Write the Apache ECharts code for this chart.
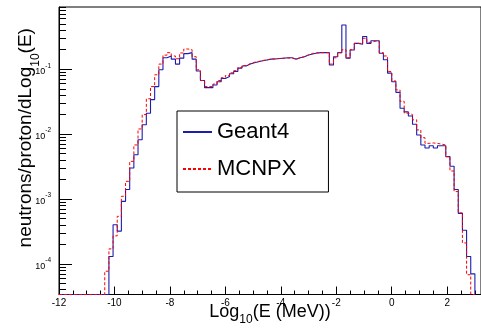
<!DOCTYPE html>
<html>
<head>
<meta charset="utf-8">
<script src="https://cdn.jsdelivr.net/npm/echarts@6/dist/echarts.min.js"></script>
<style>
  html, body { margin: 0; padding: 0; background: #fff; }
  #chart { width: 481px; height: 331px; }
</style>
</head>
<body>
<div id="chart"></div>
<script>
// histogram: 100 bins of 0.15 in log10(E/MeV), from -12 to 3
const binLow = -12;
const binWidth = 0.15;

const geant4 = [
  0, 0, 0, 0, 0, 0, 0, 0, 0, 0, 0, 0,
  1.3e-4, 4.0e-4, 3.2e-4, 9.2e-4, 1.4e-3, 3.0e-3, 4.8e-3, 8.2e-3, 1.39e-2, 2.1e-2,
  3.4e-2, 5.4e-2, 0.098, 0.15, 0.16, 0.143, 0.12, 0.148, 0.174, 0.18,
  0.143, 0.094, 0.067, 0.052, 0.052, 0.057, 0.064, 0.072, 0.077, 0.085,
  0.092, 0.104, 0.112, 0.12, 0.126, 0.13, 0.135, 0.139, 0.143, 0.144,
  0.146, 0.148, 0.15, 0.15, 0.143, 0.15, 0.156, 0.166, 0.172, 0.178,
  0.18, 0.18, 0.18, 0.116, 0.156, 0.18, 0.48, 0.148, 0.198, 0.25,
  0.243, 0.32, 0.25, 0.275, 0.275, 0.176, 0.14, 0.087, 0.064, 0.044,
  0.025, 0.022, 0.019, 0.0142, 0.0097, 0.0068, 0.0061, 0.0066, 0.0061, 0.0066,
  0.0066, 0.0045, 0.0032, 1.4e-3, 6.0e-4, 3.3e-4, 1.3e-4, 7e-5
];

const mcnpx = [
  0, 0, 0, 0, 0, 0, 0, 0, 0, 0, 0,
  7.7e-5, 1.7e-4, 2.7e-4, 5.4e-4, 1.1e-3, 1.87e-3, 3.8e-3, 6.8e-3, 1.2e-2, 2.0e-2,
  3.5e-2, 5.4e-2, 8.2e-2, 0.12, 0.165, 0.18, 0.16, 0.145, 0.178, 0.205,
  0.2, 0.156, 0.098, 0.067, 0.054, 0.054, 0.059, 0.067, 0.074, 0.08,
  0.088, 0.095, 0.106, 0.114, 0.122, 0.128, 0.132, 0.136, 0.14, 0.143,
  0.145, 0.146, 0.148, 0.148, 0.15, 0.143, 0.15, 0.156, 0.166, 0.175,
  0.178, 0.18, 0.18, 0.18, 0.12, 0.15, 0.18, 0.2, 0.15, 0.2,
  0.25, 0.25, 0.3, 0.26, 0.27, 0.27, 0.18, 0.16, 0.092, 0.066,
  0.048, 0.032, 0.021, 0.02, 0.0166, 0.0116, 0.0088, 0.0072, 0.0073, 0.0072,
  0.007, 0.0068, 0.0045, 0.0027, 1.3e-3, 6.1e-4, 2.1e-4, 6.8e-5, 0
];

const seriesNames = ["Geant4", "MCNPX"];
const xMin = -12;
const xMax = 3.22;
const yMin = 3.37e-5;
const yMax = 0.91;

// minor ticks: every 0.5 on x, 2..9 x 10^n on y (log10 units)
const xMinorTicks = [];
for (let v = -11.5; v < xMax; v += 0.5) {
  if (Math.abs(v / 2 - Math.round(v / 2)) > 1e-6) xMinorTicks.push(v);
}
const yMinorTicks = [];
for (let e = -5; e <= 0; e++) {
  for (let k = 2; k <= 9; k++) {
    const v = k * Math.pow(10, e);
    if (v > yMin && v < yMax) yMinorTicks.push(Math.log10(v));
  }
}

// step line through bin edges, empty bins sit on the frame floor
function toSteps(values) {
  const pts = values.map((v, i) => [binLow + i * binWidth, v > 0 ? v : yMin]);
  pts.push([binLow + values.length * binWidth, yMin]);
  return pts;
}

const chart = echarts.init(document.getElementById("chart"));
const font = "Liberation Sans";

chart.setOption({
  animation: false,
  backgroundColor: "#fff",
  textStyle: { fontFamily: font, color: "#000" },
  grid: {
    left: 59, right: 0, top: 7, bottom: 36,
    show: true, borderColor: "#000", borderWidth: 1, backgroundColor: "transparent"
  },
  legend: {
    data: seriesNames,
    orient: "vertical",
    left: 177, top: 111,
    itemWidth: 29, itemHeight: 22, itemGap: 15,
    padding: [10, 32, 12, 5],
    backgroundColor: "#fff", borderColor: "#000", borderWidth: 1, borderRadius: 0,
    itemStyle: { opacity: 0 },
    textStyle: { fontFamily: font, fontSize: 22, lineHeight: 22, color: "#000" }
  },
  xAxis: [
    {
      type: "value",
      min: xMin, max: xMax, interval: 2,
      name: "Log{sub|10}(E (MeV))",
      nameLocation: "middle",
      nameGap: 8,
      nameMoveOverlap: false,
      nameTextStyle: {
        fontFamily: font, fontSize: 18, lineHeight: 20, verticalAlign: "top", color: "#000",
        rich: { sub: { fontFamily: font, fontSize: 12, lineHeight: 12, padding: [15, 0, 0, 0] } }
      },
      axisLine: { show: true, onZero: false, lineStyle: { color: "#000", width: 1 } },
      axisTick: { inside: true, length: 8, lineStyle: { color: "#000" } },
      axisLabel: { fontFamily: font, fontSize: 10, color: "#000", margin: 4, showMaxLabel: false },
      splitLine: { show: false }
    },
    {
      type: "value",
      min: xMin, max: xMax,
      position: "bottom",
      axisLine: { show: false, onZero: false },
      axisLabel: { show: false },
      axisTick: { show: true, inside: true, length: 4, customValues: xMinorTicks, lineStyle: { color: "#000" } },
      splitLine: { show: false }
    }
  ],
  yAxis: [
    {
      type: "log",
      logBase: 10,
      min: yMin, max: yMax,
      position: "left",
      name: "{m|neutrons/proton/dLog}{sub|10}{m|(E)}",
      nameLocation: "middle",
      nameGap: 21,
      nameMoveOverlap: false,
      nameTextStyle: {
        padding: [0, 0, 0, 26],
        rich: {
          m: { fontFamily: font, fontSize: 19, lineHeight: 22, verticalAlign: "top", color: "#000" },
          sub: { fontFamily: font, fontSize: 12, lineHeight: 12, padding: [18, 0, 0, 0], color: "#000" }
        }
      },
      axisLine: { show: true, onZero: false, lineStyle: { color: "#000", width: 1 } },
      axisTick: { inside: true, length: 13, lineStyle: { color: "#000" } },
      axisLabel: {
        margin: 8,
        showMinLabel: false,
        showMaxLabel: false,
        formatter: (v) => "{b|10}{s|" + Math.round(Math.log10(v)) + "}",
        rich: {
          b: { fontFamily: font, fontSize: 9, lineHeight: 14, verticalAlign: "bottom", color: "#000" },
          s: { fontFamily: font, fontSize: 6.5, lineHeight: 8, verticalAlign: "top", color: "#000" }
        }
      },
      splitLine: { show: false }
    },
    {
      type: "value",
      min: Math.log10(yMin), max: Math.log10(yMax),
      position: "left",
      axisLine: { show: false, onZero: false },
      axisLabel: { show: false },
      axisTick: { show: true, inside: true, length: 7, customValues: yMinorTicks, lineStyle: { color: "#000" } },
      splitLine: { show: false }
    }
  ],
  series: [
    {
      name: seriesNames[0],
      type: "line",
      step: "end",
      symbol: "none",
      yAxisIndex: 0,
      lineStyle: { color: "#1c1caf", width: 1.1 },
      itemStyle: { color: "#1c1caf" },
      data: toSteps(geant4)
    },
    {
      name: seriesNames[1],
      type: "line",
      step: "end",
      symbol: "none",
      yAxisIndex: 0,
      lineStyle: { color: "#ff0000", width: 1, type: [3, 2] },
      itemStyle: { color: "#ff0000" },
      data: toSteps(mcnpx)
    }
  ]
});
</script>
</body>
</html>
